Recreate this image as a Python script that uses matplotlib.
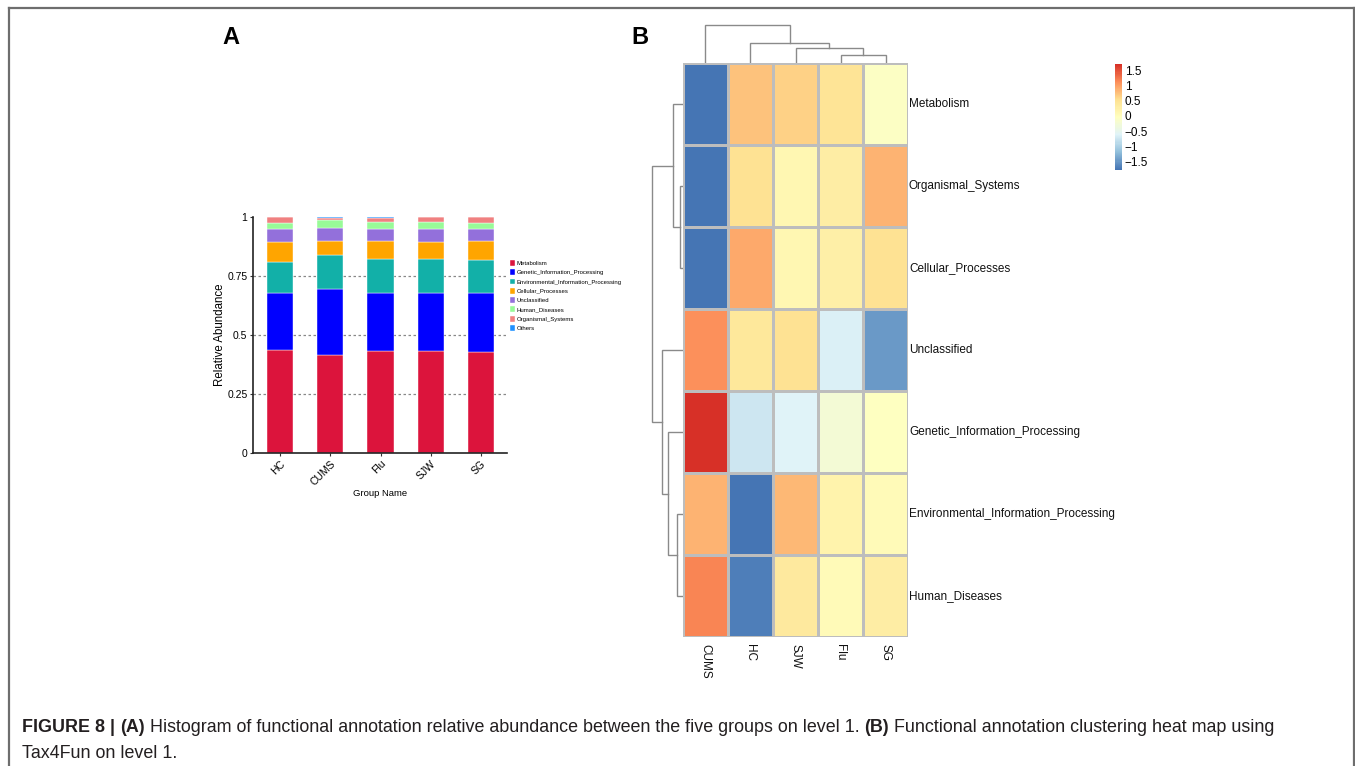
import matplotlib
matplotlib.use("Agg")
import matplotlib.pyplot as plt
import matplotlib.transforms as mtransforms
import numpy as np
from matplotlib.colors import LinearSegmentedColormap
from matplotlib.lines import Line2D

plt.rcParams['font.family'] = ['Liberation Sans', 'DejaVu Sans']

# ---------------- data: panel A ----------------
groups = ["HC", "CUMS", "Flu", "SJW", "SG"]
categories = ["Metabolism", "Genetic_Information_Processing",
              "Environmental_Information_Processing", "Cellular_Processes",
              "Unclassified", "Human_Diseases", "Organismal_Systems", "Others"]
metabolism = [0.437, 0.415, 0.432, 0.434, 0.428]
genetic = [0.239, 0.279, 0.247, 0.242, 0.248]
environmental = [0.134, 0.144, 0.141, 0.144, 0.141]
cellular = [0.084, 0.059, 0.077, 0.074, 0.080]
unclassified = [0.057, 0.057, 0.054, 0.057, 0.051]
human = [0.025, 0.032, 0.028, 0.028, 0.028]
organismal = [0.023, 0.010, 0.015, 0.020, 0.023]
others = [0.001, 0.004, 0.006, 0.001, 0.001]
bar_colors = ["#DC143C", "#0000FF", "#12B0A8", "#FFA500", "#9370DB",
              "#98FB98", "#F08080", "#1E90FF"]
y_ticks = [0, 0.25, 0.5, 0.75, 1]
y_ticklabels = ["0", "0.25", "0.5", "0.75", "1"]

# ---------------- data: panel B ----------------
heat_cols = ["CUMS", "HC", "SJW", "Flu", "SG"]
heat_rows = ["Metabolism", "Organismal_Systems", "Cellular_Processes",
             "Unclassified", "Genetic_Information_Processing",
             "Environmental_Information_Processing", "Human_Diseases"]
row_metabolism = [-1.78, 0.75, 0.65, 0.45, -0.10]
row_organismal = [-1.75, 0.50, 0.10, 0.30, 0.85]
row_cellular = [-1.75, 0.90, 0.10, 0.25, 0.50]
row_unclassified = [1.10, 0.40, 0.50, -0.65, -1.50]
row_genetic = [1.70, -0.75, -0.60, -0.25, -0.05]
row_environmental = [0.85, -1.75, 0.80, 0.20, 0.05]
row_human = [1.15, -1.70, 0.35, 0.05, 0.30]
cbar_ticks = [-1.5, -1, -0.5, 0, 0.5, 1, 1.5]
cbar_ticklabels = ["\u22121.5", "\u22121", "\u22120.5", "0", "0.5", "1", "1.5"]

# dendrogram structures: merges (left cluster, right cluster, height)
col_merges = [(3, 4, 7.5), (2, 5, 14.5), (1, 6, 19.5), (0, 7, 38.0)]
row_merges = [(1, 2, 2.5), (5, 6, 5.5), (0, 7, 10.0), (4, 8, 15.0),
              (3, 10, 21.0), (9, 11, 31.0)]

W, H = 1355, 766
fig = plt.figure(figsize=(W / 100, H / 100), dpi=100)


def fx(px):
    return px / W


def fy(py):
    return 1 - py / H


# figure border
border_kw = dict(color="#6e6e6e", lw=1.6, transform=fig.transFigure)
fig.add_artist(Line2D([fx(9), fx(9)], [0, fy(8)], **border_kw))
fig.add_artist(Line2D([fx(9), fx(1354)], [fy(8), fy(8)], **border_kw))
fig.add_artist(Line2D([fx(1354), fx(1354)], [0, fy(8)], **border_kw))

# ---------------- panel A ----------------
axA = fig.add_axes([fx(253), fy(453), fx(507) - fx(253), fy(217) - fy(453)])
series = [metabolism, genetic, environmental, cellular, unclassified,
          human, organismal, others]
x = np.arange(len(groups))
bottom = np.zeros(len(groups))
handles = []
for vals, col, lab in zip(series, bar_colors, categories):
    b = axA.bar(x, vals, bottom=bottom, width=0.52, color=col,
                edgecolor="white", linewidth=0.3, label=lab, zorder=2)
    handles.append(b)
    bottom += np.array(vals)
axA.set_xlim(-0.54, 4.52)
axA.set_ylim(0, 1)
for yv in y_ticks[1:-1]:
    axA.axhline(yv, color="#888888", lw=0.9, ls=(0, (2, 2)), zorder=1)
axA.set_yticks(y_ticks)
axA.set_yticklabels(y_ticklabels, fontsize=7.5)
axA.set_xticks(x)
axA.set_xticklabels(groups, fontsize=7.5, rotation=45, ha="right",
                    va="top", rotation_mode="anchor")
shift = mtransforms.ScaledTranslation(-3 / 100, 0, fig.dpi_scale_trans)
for lbl in axA.get_xticklabels():
    lbl.set_transform(lbl.get_transform() + shift)
axA.tick_params(axis="both", length=2, width=0.8, color="#333333", pad=2)
axA.tick_params(axis="x", pad=2)
for s in ["top", "right"]:
    axA.spines[s].set_visible(False)
for s in ["left", "bottom"]:
    axA.spines[s].set_color("#222222")
    axA.spines[s].set_linewidth(1.2)
axA.set_xlabel("Group Name", fontsize=6.8, labelpad=1)
axA.set_ylabel("Relative Abundance", fontsize=8.3, labelpad=1)
fig.legend(handles=handles, labels=categories, loc="upper left",
           bbox_to_anchor=(fx(510), fy(260)), frameon=False,
           fontsize=4.3,
           handlelength=0.85, handleheight=1.15, handletextpad=0.25,
           labelspacing=0.55, borderaxespad=0, borderpad=0)
fig.text(fx(231), fy(38), "A", fontsize=17, fontweight="bold",
         ha="center", va="center")

# ---------------- panel B ----------------
heat = np.array([row_metabolism, row_organismal, row_cellular,
                 row_unclassified, row_genetic, row_environmental, row_human])
pal = ["#4575B4", "#91BFDB", "#E0F3F8", "#FFFFBF", "#FEE090", "#FC8D59",
       "#D73027"]
cmap = LinearSegmentedColormap.from_list("pheat", pal, N=100)
vmin, vmax = heat.min(), heat.max()

hx0, hx1, hy0, hy1 = 683, 908, 63, 637
axH = fig.add_axes([fx(hx0), fy(hy1), fx(hx1) - fx(hx0), fy(hy0) - fy(hy1)])
mesh = axH.pcolormesh(np.arange(len(heat_cols) + 1),
                      np.arange(len(heat_rows) + 1), heat, cmap=cmap,
                      vmin=vmin, vmax=vmax, edgecolors="#BDBDBD",
                      linewidth=0.8)
axH.set_xlim(0, len(heat_cols))
axH.set_ylim(len(heat_rows), 0)
axH.set_xticks([])
axH.set_yticks([])
for s in axH.spines.values():
    s.set_visible(False)
for i, name in enumerate(heat_rows):
    axH.text(len(heat_cols) + 0.02, i + 0.5, name, fontsize=8.5,
             ha="left", va="center", color="#111111")
for j, name in enumerate(heat_cols):
    axH.text(j + 0.5, len(heat_rows) + 0.08, name, fontsize=8.5,
             ha="center", va="top", rotation=-90, color="#111111")


def dendro_segments(n, merges):
    pos = {i: i + 0.5 for i in range(n)}
    hgt = {i: 0.0 for i in range(n)}
    segs = []
    nid = n
    for a, b, h in merges:
        segs.append(([pos[a], pos[a], pos[b], pos[b]],
                     [hgt[a], h, h, hgt[b]]))
        pos[nid] = (pos[a] + pos[b]) / 2
        hgt[nid] = h
        nid += 1
    return segs


# column dendrogram
axCD = fig.add_axes([fx(hx0), fy(hy0), fx(hx1) - fx(hx0), fy(24) - fy(hy0)])
for xs, ys in dendro_segments(len(heat_cols), col_merges):
    axCD.plot(xs, ys, color="#8a8a8a", lw=1.0, solid_joinstyle="miter")
axCD.set_xlim(0, len(heat_cols))
axCD.set_ylim(0, max(m[2] for m in col_merges) + 0.6)
axCD.axis("off")

# row dendrogram
axRD = fig.add_axes([fx(651), fy(hy1), fx(hx0) - fx(651), fy(hy0) - fy(hy1)])
for xs, ys in dendro_segments(len(heat_rows), row_merges):
    axRD.plot(ys, xs, color="#8a8a8a", lw=1.0, solid_joinstyle="miter")
axRD.set_ylim(len(heat_rows), 0)
axRD.set_xlim(max(m[2] for m in row_merges) + 0.6, 0)
axRD.axis("off")

# colorbar
axCB = fig.add_axes([fx(1115), fy(170), fx(1122) - fx(1115), fy(64) - fy(170)])
cb = fig.colorbar(mesh, cax=axCB)
cb.outline.set_visible(False)
cb.set_ticks(cbar_ticks)
cb.set_ticklabels(cbar_ticklabels)
axCB.tick_params(length=0, labelsize=8.5, pad=2)

fig.text(fx(640), fy(37), "B", fontsize=17, fontweight="bold",
         ha="center", va="center")

# ---------------- caption ----------------
renderer = fig.canvas.get_renderer()
cap_size = 12.9
line1 = [("FIGURE 8 | ", "bold"), ("(A)", "bold"),
         (" Histogram of functional annotation relative abundance between the five groups on level 1. ", "normal"),
         ("(B)", "bold"),
         (" Functional annotation clustering heat map using", "normal")]
xpos = fx(22)
for txt, wt in line1:
    t = fig.text(xpos, fy(728), txt, fontsize=cap_size, fontweight=wt,
                 ha="left", va="center", color="#231F20")
    bb = t.get_window_extent(renderer=renderer)
    xpos += bb.width / W
fig.text(fx(22), fy(753), "Tax4Fun on level 1.", fontsize=cap_size,
         ha="left", va="center", color="#231F20")

fig.savefig("out.png", dpi=100)
